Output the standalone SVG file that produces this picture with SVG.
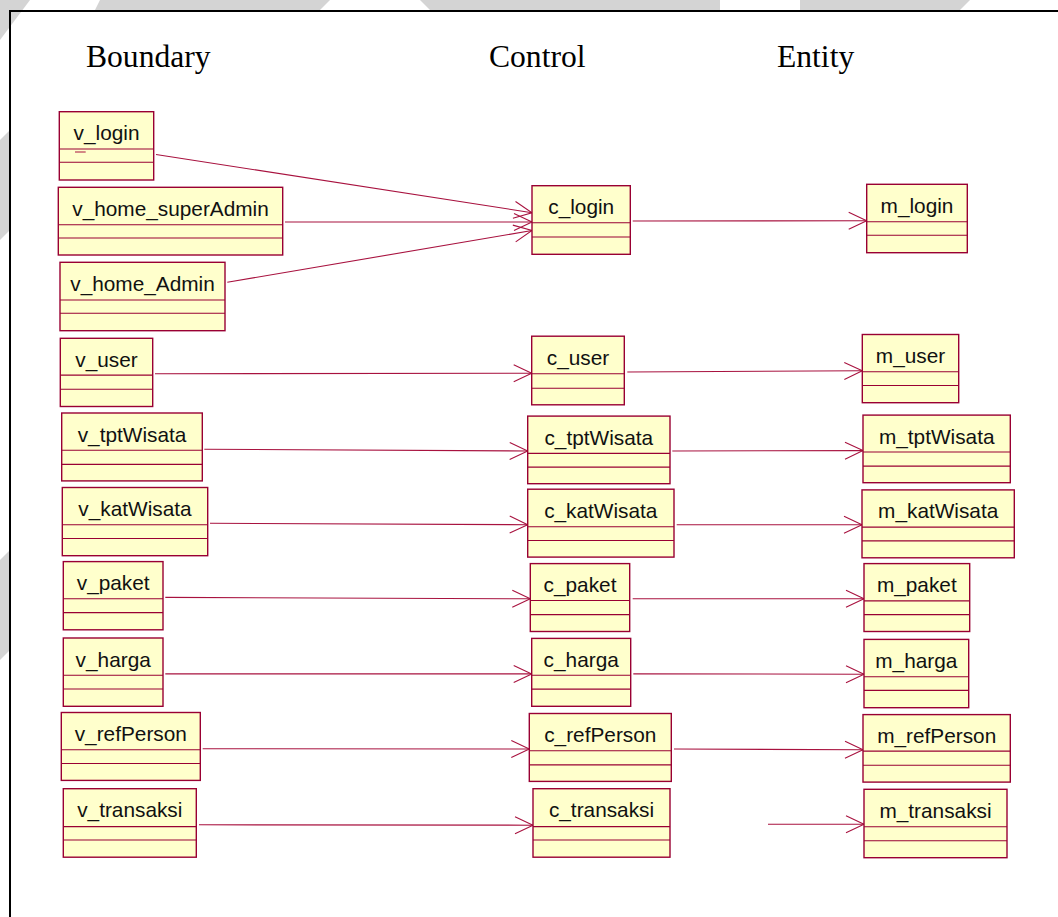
<svg xmlns="http://www.w3.org/2000/svg" width="1058" height="917" viewBox="0 0 1058 917">
  <style>
    .box { fill: #FFFFCC; stroke: #990033; stroke-width: 1.4; }
    .div { stroke: #990033; stroke-width: 1.1; }
    .name { font-family: "Liberation Sans", Arial, sans-serif; font-size: 20.8px; fill: #111; text-anchor: middle; }
    .head { font-family: "Liberation Serif", "Times New Roman", serif; font-size: 31.6px; fill: #000; }
    .conn { stroke: #A8123F; stroke-width: 1.1; fill: none; marker-end: url(#open); }
    .wm { fill: #d4d4d4; }
  </style>
  <defs>
    <marker id="open" markerUnits="userSpaceOnUse" viewBox="-20 -10 22 20" refX="0" refY="0" markerWidth="22" markerHeight="20" orient="auto">
      <path d="M-18,-8.5 L0,0 L-18,8.5" fill="none" stroke="#A8123F" stroke-width="1.1"/>
    </marker>
  </defs>

  <!-- page background and faint watermark outside the frame -->
  <rect x="0" y="0" width="1058" height="917" fill="#ffffff"/>
  <g id="watermark">
    <path class="wm" d="M0,0 H30 L0,40 Z"/>
    <path class="wm" d="M100,0 H330 L320,10 H95 Z"/>
    <path class="wm" d="M420,0 H720 V10 H430 Z"/>
    <path class="wm" d="M800,0 H970 L960,10 H800 Z"/>
    <path class="wm" d="M0,140 L10,130 V230 L0,240 Z"/>
    <path class="wm" d="M0,560 L10,550 V650 L0,660 Z"/>
  </g>

  <!-- outer frame -->
  <path d="M10,917 V11 H1058" fill="none" stroke="#000" stroke-width="2"/>

  <!-- column headings -->
  <text class="head" x="86" y="66.7">Boundary</text>
  <text class="head" x="489" y="66.7">Control</text>
  <text class="head" x="777" y="66.7">Entity</text>

  <!-- connectors -->
  <g id="connectors">
    <line class="conn" x1="156" y1="154.5" x2="532" y2="212.7"/>
    <line class="conn" x1="285" y1="222" x2="532" y2="222"/>
    <line class="conn" x1="227.3" y1="282.3" x2="532" y2="230.5"/>
    <line class="conn" x1="632.7" y1="221" x2="866.7" y2="220.7"/>
    <line class="conn" x1="155" y1="373.8" x2="531.7" y2="373.2"/>
    <line class="conn" x1="627.3" y1="372" x2="862.3" y2="370.8"/>
    <line class="conn" x1="204.3" y1="449.2" x2="527.7" y2="451"/>
    <line class="conn" x1="672.3" y1="451" x2="863" y2="450.6"/>
    <line class="conn" x1="210" y1="523.3" x2="527.7" y2="524.7"/>
    <line class="conn" x1="676.7" y1="524.7" x2="862" y2="524.7"/>
    <line class="conn" x1="165.3" y1="597.4" x2="530.3" y2="598.8"/>
    <line class="conn" x1="632.7" y1="598.8" x2="864" y2="598.8"/>
    <line class="conn" x1="165.3" y1="673.9" x2="531.7" y2="673.9"/>
    <line class="conn" x1="633.3" y1="673.9" x2="864" y2="674.2"/>
    <line class="conn" x1="202.7" y1="748.7" x2="529.3" y2="749"/>
    <line class="conn" x1="674" y1="749" x2="863" y2="749.7"/>
    <line class="conn" x1="199" y1="824.8" x2="533" y2="825.2"/>
    <line class="conn" x1="768" y1="824.3" x2="864" y2="824.3"/>
  </g>

  <!-- boundary classes -->
  <g id="v_login">
    <rect class="box" x="59.3" y="111.7" width="94.4" height="68.3"/>
    <line class="div" x1="59.3" y1="149" x2="153.7" y2="149"/>
    <line class="div" x1="59.3" y1="162.3" x2="153.7" y2="162.3"/>
    <line x1="75" y1="152" x2="85.7" y2="152" stroke="#A8123F" stroke-width="1"/>
    <text class="name" x="106.5" y="140">v_login</text>
  </g>
  <g id="v_home_superAdmin">
    <rect class="box" x="58.3" y="187.3" width="224.4" height="67.7"/>
    <line class="div" x1="58.3" y1="224.7" x2="282.7" y2="224.7"/>
    <line class="div" x1="58.3" y1="238" x2="282.7" y2="238"/>
    <text class="name" x="170.5" y="215.8">v_home_superAdmin</text>
  </g>
  <g id="v_home_Admin">
    <rect class="box" x="60" y="262.3" width="165" height="68.4"/>
    <line class="div" x1="60" y1="300" x2="225" y2="300"/>
    <line class="div" x1="60" y1="313.3" x2="225" y2="313.3"/>
    <text class="name" x="142.5" y="290.8">v_home_Admin</text>
  </g>
  <g id="v_user">
    <rect class="box" x="60.3" y="338.3" width="92.4" height="68.2"/>
    <line class="div" x1="60.3" y1="375.1" x2="152.7" y2="375.1"/>
    <line class="div" x1="60.3" y1="389.3" x2="152.7" y2="389.3"/>
    <text class="name" x="106.5" y="366.8">v_user</text>
  </g>
  <g id="v_tptWisata">
    <rect class="box" x="61.7" y="413" width="140.6" height="67.9"/>
    <line class="div" x1="61.7" y1="450.3" x2="202.3" y2="450.3"/>
    <line class="div" x1="61.7" y1="464.4" x2="202.3" y2="464.4"/>
    <text class="name" x="132" y="441.5">v_tptWisata</text>
  </g>
  <g id="v_katWisata">
    <rect class="box" x="62.3" y="487.5" width="145.4" height="68.2"/>
    <line class="div" x1="62.3" y1="524.7" x2="207.7" y2="524.7"/>
    <line class="div" x1="62.3" y1="538.5" x2="207.7" y2="538.5"/>
    <text class="name" x="135" y="516">v_katWisata</text>
  </g>
  <g id="v_paket">
    <rect class="box" x="63.3" y="561.6" width="99.7" height="68.2"/>
    <line class="div" x1="63.3" y1="598.8" x2="163" y2="598.8"/>
    <line class="div" x1="63.3" y1="612.6" x2="163" y2="612.6"/>
    <text class="name" x="113.2" y="590.1">v_paket</text>
  </g>
  <g id="v_harga">
    <rect class="box" x="63.3" y="638" width="99.7" height="68.3"/>
    <line class="div" x1="63.3" y1="675.3" x2="163" y2="675.3"/>
    <line class="div" x1="63.3" y1="689" x2="163" y2="689"/>
    <text class="name" x="113.2" y="666.5">v_harga</text>
  </g>
  <g id="v_refPerson">
    <rect class="box" x="61.3" y="712.5" width="139" height="67.9"/>
    <line class="div" x1="61.3" y1="749.7" x2="200.3" y2="749.7"/>
    <line class="div" x1="61.3" y1="763.5" x2="200.3" y2="763.5"/>
    <text class="name" x="130.8" y="741">v_refPerson</text>
  </g>
  <g id="v_transaksi">
    <rect class="box" x="63.3" y="788.7" width="133" height="68.5"/>
    <line class="div" x1="63.3" y1="826.6" x2="196.3" y2="826.6"/>
    <line class="div" x1="63.3" y1="840" x2="196.3" y2="840"/>
    <text class="name" x="129.8" y="817.2">v_transaksi</text>
  </g>

  <!-- control classes -->
  <g id="c_login">
    <rect class="box" x="532" y="185.7" width="98.3" height="68.6"/>
    <line class="div" x1="532" y1="222.7" x2="630.3" y2="222.7"/>
    <line class="div" x1="532" y1="237" x2="630.3" y2="237"/>
    <text class="name" x="581.2" y="214.2">c_login</text>
  </g>
  <g id="c_user">
    <rect class="box" x="531.7" y="336.2" width="92.6" height="68.6"/>
    <line class="div" x1="531.7" y1="373.8" x2="624.3" y2="373.8"/>
    <line class="div" x1="531.7" y1="388.2" x2="624.3" y2="388.2"/>
    <text class="name" x="578" y="364.7">c_user</text>
  </g>
  <g id="c_tptWisata">
    <rect class="box" x="527.7" y="416.1" width="142.3" height="67.6"/>
    <line class="div" x1="527.7" y1="453.4" x2="670" y2="453.4"/>
    <line class="div" x1="527.7" y1="467.1" x2="670" y2="467.1"/>
    <text class="name" x="598.8" y="444.6">c_tptWisata</text>
  </g>
  <g id="c_katWisata">
    <rect class="box" x="527.7" y="489.2" width="146.3" height="67.9"/>
    <line class="div" x1="527.7" y1="526.8" x2="674" y2="526.8"/>
    <line class="div" x1="527.7" y1="540.5" x2="674" y2="540.5"/>
    <text class="name" x="600.8" y="517.7">c_katWisata</text>
  </g>
  <g id="c_paket">
    <rect class="box" x="530.3" y="563.6" width="99.4" height="67.9"/>
    <line class="div" x1="530.3" y1="600.5" x2="629.7" y2="600.5"/>
    <line class="div" x1="530.3" y1="614.6" x2="629.7" y2="614.6"/>
    <text class="name" x="580" y="592.1">c_paket</text>
  </g>
  <g id="c_harga">
    <rect class="box" x="531.7" y="638.4" width="99" height="67.9"/>
    <line class="div" x1="531.7" y1="675.3" x2="630.7" y2="675.3"/>
    <line class="div" x1="531.7" y1="689.1" x2="630.7" y2="689.1"/>
    <text class="name" x="581.2" y="666.9">c_harga</text>
  </g>
  <g id="c_refPerson">
    <rect class="box" x="529.3" y="713.5" width="142" height="67.9"/>
    <line class="div" x1="529.3" y1="750.7" x2="671.3" y2="750.7"/>
    <line class="div" x1="529.3" y1="764.9" x2="671.3" y2="764.9"/>
    <text class="name" x="600.3" y="742">c_refPerson</text>
  </g>
  <g id="c_transaksi">
    <rect class="box" x="533" y="788.7" width="137" height="68.5"/>
    <line class="div" x1="533" y1="826.6" x2="670" y2="826.6"/>
    <line class="div" x1="533" y1="840" x2="670" y2="840"/>
    <text class="name" x="601.5" y="817.2">c_transaksi</text>
  </g>

  <!-- entity classes -->
  <g id="m_login">
    <rect class="box" x="866.7" y="184.3" width="100.6" height="68.4"/>
    <line class="div" x1="866.7" y1="221.7" x2="967.3" y2="221.7"/>
    <line class="div" x1="866.7" y1="235.3" x2="967.3" y2="235.3"/>
    <text class="name" x="917" y="212.8">m_login</text>
  </g>
  <g id="m_user">
    <rect class="box" x="862.3" y="334.5" width="96.4" height="68.2"/>
    <line class="div" x1="862.3" y1="371.7" x2="958.7" y2="371.7"/>
    <line class="div" x1="862.3" y1="385.5" x2="958.7" y2="385.5"/>
    <text class="name" x="910.5" y="363">m_user</text>
  </g>
  <g id="m_tptWisata">
    <rect class="box" x="863" y="415.1" width="147.3" height="67.6"/>
    <line class="div" x1="863" y1="452" x2="1010.3" y2="452"/>
    <line class="div" x1="863" y1="466.1" x2="1010.3" y2="466.1"/>
    <text class="name" x="936.7" y="443.6">m_tptWisata</text>
  </g>
  <g id="m_katWisata">
    <rect class="box" x="862" y="489.9" width="152.3" height="67.9"/>
    <line class="div" x1="862" y1="527.1" x2="1014.3" y2="527.1"/>
    <line class="div" x1="862" y1="540.9" x2="1014.3" y2="540.9"/>
    <text class="name" x="938.2" y="518.4">m_katWisata</text>
  </g>
  <g id="m_paket">
    <rect class="box" x="864" y="563.6" width="105.7" height="67.9"/>
    <line class="div" x1="864" y1="600.9" x2="969.7" y2="600.9"/>
    <line class="div" x1="864" y1="614.6" x2="969.7" y2="614.6"/>
    <text class="name" x="916.8" y="592.1">m_paket</text>
  </g>
  <g id="m_harga">
    <rect class="box" x="864" y="639.4" width="104.7" height="68.3"/>
    <line class="div" x1="864" y1="676.7" x2="968.7" y2="676.7"/>
    <line class="div" x1="864" y1="690.4" x2="968.7" y2="690.4"/>
    <text class="name" x="916.3" y="667.9">m_harga</text>
  </g>
  <g id="m_refPerson">
    <rect class="box" x="863" y="714.6" width="147.3" height="67.5"/>
    <line class="div" x1="863" y1="751.1" x2="1010.3" y2="751.1"/>
    <line class="div" x1="863" y1="765.2" x2="1010.3" y2="765.2"/>
    <text class="name" x="936.7" y="743.1">m_refPerson</text>
  </g>
  <g id="m_transaksi">
    <rect class="box" x="864" y="789.3" width="143" height="68.4"/>
    <line class="div" x1="864" y1="826.7" x2="1007" y2="826.7"/>
    <line class="div" x1="864" y1="840.7" x2="1007" y2="840.7"/>
    <text class="name" x="935.5" y="817.8">m_transaksi</text>
  </g>
</svg>
